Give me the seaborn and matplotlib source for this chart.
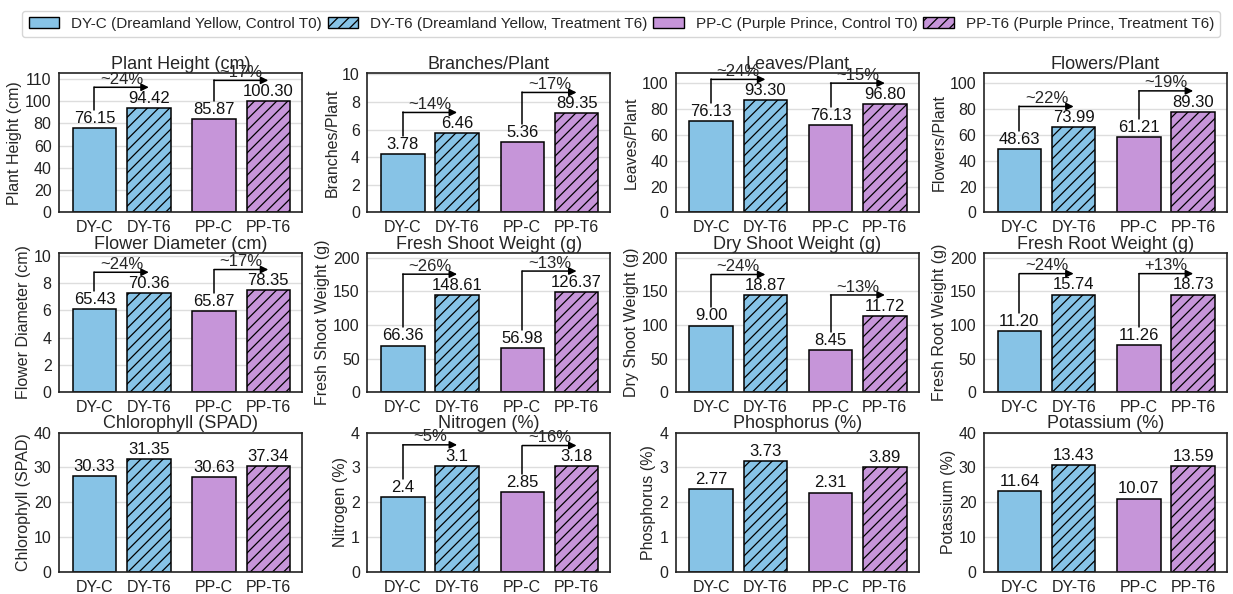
import numpy as np
import pandas as pd
import matplotlib
matplotlib.use("Agg")
import matplotlib.pyplot as plt
import seaborn as sns
from matplotlib.patches import Patch

# categories / groups
conds = ["DY-C", "DY-T6", "PP-C", "PP-T6"]
legend_labels = [
    "DY-C (Dreamland Yellow, Control T0)",
    "DY-T6 (Dreamland Yellow, Treatment T6)",
    "PP-C (Purple Prince, Control T0)",
    "PP-T6 (Purple Prince, Treatment T6)",
]
x_pos = [0, 1, 2.2, 3.2]

titles = [
    "Plant Height (cm)", "Branches/Plant", "Leaves/Plant", "Flowers/Plant",
    "Flower Diameter (cm)", "Fresh Shoot Weight (g)", "Dry Shoot Weight (g)", "Fresh Root Weight (g)",
    "Chlorophyll (SPAD)", "Nitrogen (%)", "Phosphorus (%)", "Potassium (%)",
]

# bar heights as drawn
plant_height = [75.7, 93.5, 84.0, 99.7]
branches = [4.25, 5.73, 5.08, 7.18]
leaves = [70.6, 86.9, 68.0, 84.0]
flowers = [48.8, 65.9, 58.7, 78.0]
flower_diam = [6.08, 7.25, 5.95, 7.45]
fresh_shoot = [69.4, 144.3, 65.3, 148.9]
dry_shoot = [99.0, 143.8, 62.2, 113.4]
fresh_root = [91.3, 145.1, 70.3, 145.1]
chlorophyll = [27.5, 32.5, 27.2, 30.3]
nitrogen = [2.16, 3.05, 2.30, 3.03]
phosphorus = [2.38, 3.19, 2.28, 3.01]
potassium = [23.3, 30.8, 21.1, 30.5]

# value labels printed above bars
lab_plant_height = ["76.15", "94.42", "85.87", "100.30"]
lab_branches = ["3.78", "6.46", "5.36", "89.35"]
lab_leaves = ["76.13", "93.30", "76.13", "96.80"]
lab_flowers = ["48.63", "73.99", "61.21", "89.30"]
lab_flower_diam = ["65.43", "70.36", "65.87", "78.35"]
lab_fresh_shoot = ["66.36", "148.61", "56.98", "126.37"]
lab_dry_shoot = ["9.00", "18.87", "8.45", "11.72"]
lab_fresh_root = ["11.20", "15.74", "11.26", "18.73"]
lab_chlorophyll = ["30.33", "31.35", "30.63", "37.34"]
lab_nitrogen = ["2.4", "3.1", "2.85", "3.18"]
lab_phosphorus = ["2.77", "3.73", "2.31", "3.89"]
lab_potassium = ["11.64", "13.43", "10.07", "13.59"]

# percent change annotations (DY pair, PP pair)
pct_labels = [
    ["~24%", "~17%"], ["~14%", "~17%"], ["~24%", "~15%"], ["~22%", "~19%"],
    ["~24%", "~17%"], ["~26%", "~13%"], ["~24%", "~13%"], ["~24%", "+13%"],
    None, ["~5%", "~16%"], None, None,
]

# y axis limits and ticks
y_tops = [125, 10.1, 108, 108, 10.2, 207, 207, 207, 40, 4, 4, 40]
y_ticks = [
    [0, 20, 40, 60, 80, 100, 120], [0, 2, 4, 6, 8, 10], [0, 20, 40, 60, 80, 100], [0, 20, 40, 60, 80, 100],
    [0, 2, 4, 6, 8, 10], [0, 50, 100, 150, 200], [0, 50, 100, 150, 200], [0, 50, 100, 150, 200],
    [0, 10, 20, 30, 40], [0, 1, 2, 3, 4], [0, 1, 2, 3, 4], [0, 10, 20, 30, 40],
]
y_ticklabels = [
    ["0", "20", "40", "60", "80", "100", "110"], None, None, None,
    None, None, None, None,
    None, None, None, None,
]

values = [plant_height, branches, leaves, flowers, flower_diam, fresh_shoot,
          dry_shoot, fresh_root, chlorophyll, nitrogen, phosphorus, potassium]
value_labels = [lab_plant_height, lab_branches, lab_leaves, lab_flowers, lab_flower_diam,
                lab_fresh_shoot, lab_dry_shoot, lab_fresh_root, lab_chlorophyll,
                lab_nitrogen, lab_phosphorus, lab_potassium]

blue = "#87C3E6"
purple = "#C695D9"
colors = [blue, blue, purple, purple]
hatches = ["", "///", "", "///"]

sns.set_theme(style="whitegrid")
plt.rcParams["font.family"] = ["Liberation Sans", "DejaVu Sans"]
plt.rcParams["axes.edgecolor"] = "#222222"
plt.rcParams["axes.linewidth"] = 1.2
plt.rcParams["grid.color"] = "#dddddd"
plt.rcParams["grid.linewidth"] = 1.0
plt.rcParams["hatch.linewidth"] = 0.9
plt.rcParams["xtick.major.size"] = 4
plt.rcParams["ytick.major.size"] = 4
plt.rcParams["xtick.major.width"] = 1
plt.rcParams["ytick.major.width"] = 1
plt.rcParams["xtick.color"] = "#222222"
plt.rcParams["ytick.color"] = "#222222"

fig, axes = plt.subplots(3, 4, figsize=(12.33, 5.94), dpi=100)
fig.subplots_adjust(left=0.048, right=0.995, top=0.877, bottom=0.037, wspace=0.27, hspace=0.29)

for i, ax in enumerate(axes.flat):
    vals = values[i]
    top = y_tops[i]
    df = pd.DataFrame({"pos": x_pos, "value": vals, "cond": conds})
    sns.barplot(data=df, x="pos", y="value", hue="cond", hue_order=conds, palette=colors,
                native_scale=True, dodge=False, width=0.8, errorbar=None, saturation=1,
                edgecolor="black", linewidth=1.1, legend=False, ax=ax)
    for cont, h in zip(ax.containers, hatches):
        for bar in cont:
            bar.set_hatch(h)
    ax.set_axisbelow(True)
    ax.xaxis.grid(False)

    ax.set_xlim(-0.65, 3.82)
    ax.set_ylim(0, top)
    ax.set_yticks(y_ticks[i])
    if y_ticklabels[i] is not None:
        ax.set_yticklabels(y_ticklabels[i])
    ax.set_xticks(x_pos)
    ax.set_xticklabels(conds)
    ax.tick_params(axis="both", labelsize=11.5, pad=1.5)
    ax.set_xlabel("")
    ax.set_ylabel(titles[i], fontsize=11.5, labelpad=2)
    ax.set_title(titles[i], fontsize=13, pad=3)

    for x, v, lab in zip(x_pos, vals, value_labels[i]):
        ax.text(x, v + 0.015 * top, lab, ha="center", va="bottom", fontsize=12, color="#111111")

    if pct_labels[i] is not None:
        for (ci, ti), pct in zip([(0, 1), (2, 3)], pct_labels[i]):
            xc, xt = x_pos[ci], x_pos[ti]
            y0 = vals[ci] + 0.13 * top
            ya = vals[ti] + 0.15 * top
            ax.plot([xc, xc], [y0, ya], color="black", lw=1.1, clip_on=False, zorder=5)
            ax.annotate("", xy=(xt, ya), xytext=(xc, ya),
                        arrowprops=dict(arrowstyle="-|>", color="black", lw=1.1,
                                        shrinkA=0, shrinkB=0, mutation_scale=11),
                        annotation_clip=False, zorder=5)
            ax.text((xc + xt) / 2, ya + 0.003 * top, pct, ha="center", va="bottom",
                    fontsize=12, clip_on=False, zorder=5)

handles = [Patch(facecolor=c, edgecolor="black", hatch=h, linewidth=1) for c, h in zip(colors, hatches)]
fig.legend(handles, legend_labels, loc="upper left", bbox_to_anchor=(0.012, 0.995, 0.984, 0),
           mode="expand", ncol=4, fontsize=11, frameon=True, edgecolor="#cccccc",
           handlelength=2.0, handleheight=0.75, borderpad=0.4, columnspacing=1.0)

fig.savefig("out.png", dpi=100)
